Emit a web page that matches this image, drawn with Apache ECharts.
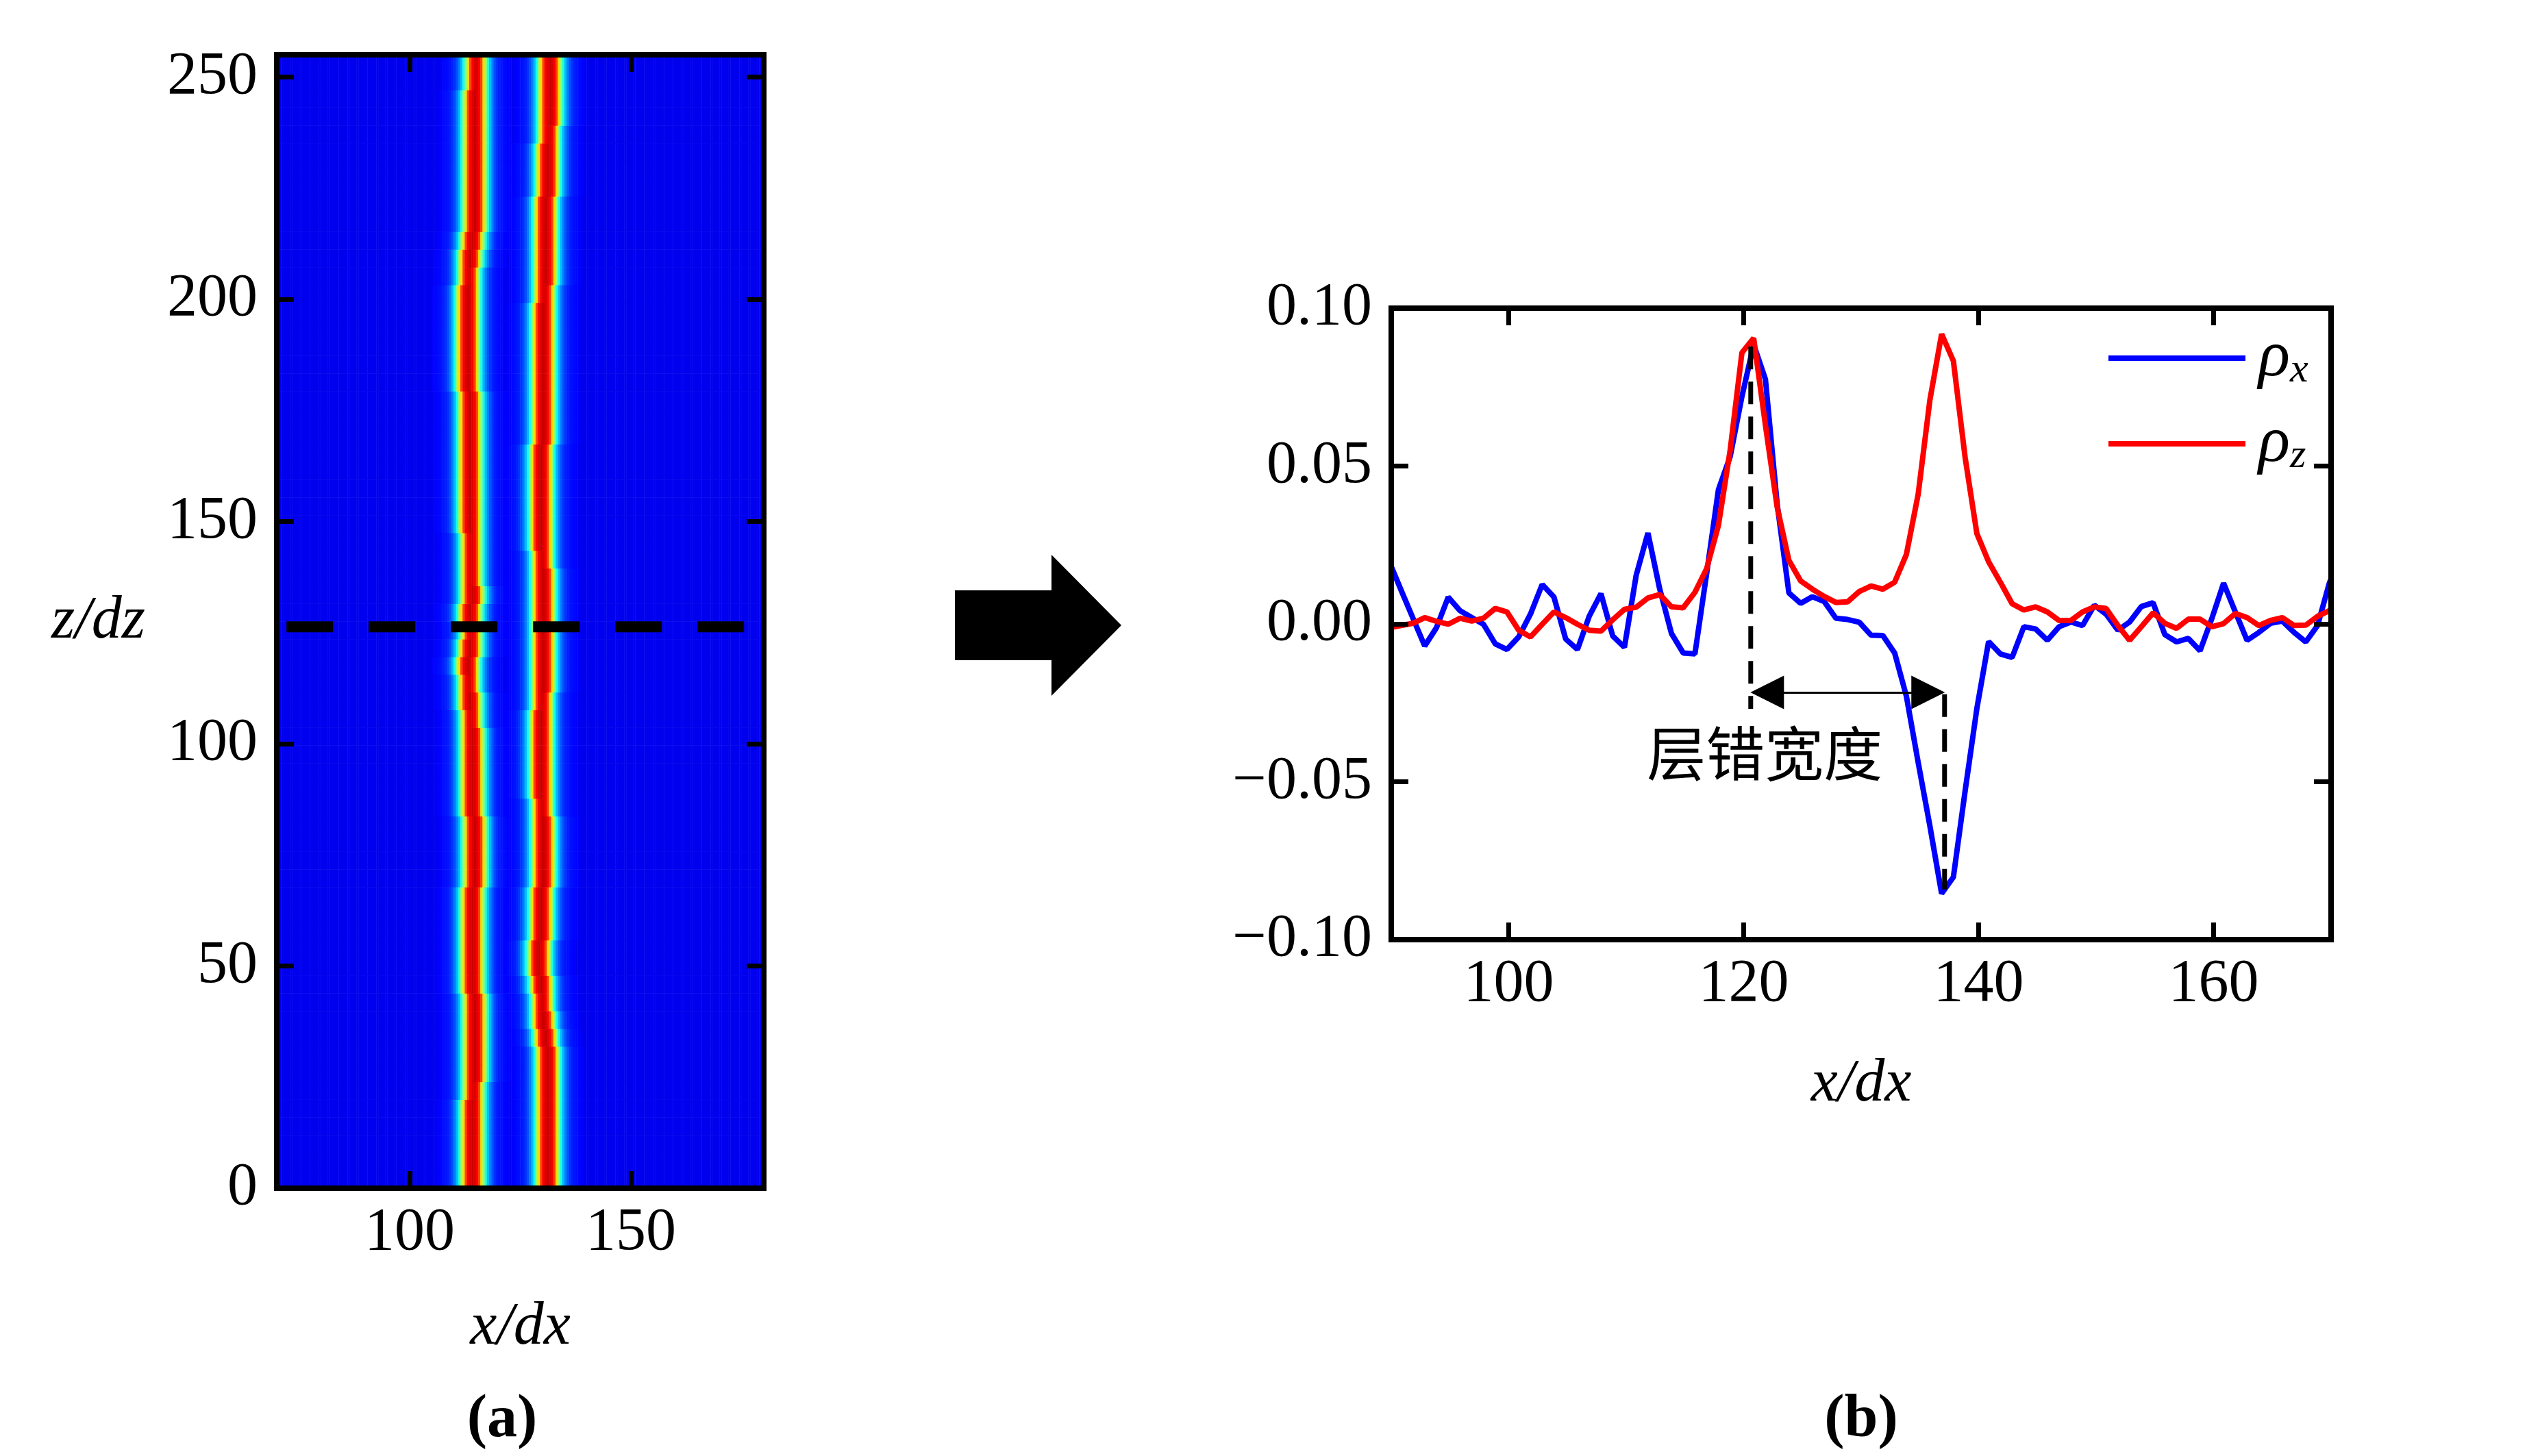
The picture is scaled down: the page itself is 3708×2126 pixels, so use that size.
<!DOCTYPE html>
<html lang="zh">
<head>
<meta charset="UTF-8">
<title>层错宽度</title>
<script src="https://cdn.jsdelivr.net/npm/echarts@6/dist/echarts.min.js"></script>
<style>
    html, body { margin: 0; padding: 0; background: #fff; }
    #main { width: 3708px; height: 2126px; }
</style>
</head>
<body>
<div id="main"></div>
<script type="text/javascript">
    // ---- (a) band centres x/dx, read at z/dz = 0, 4, ... 252
    var bandZ = [0, 4, 8, 12, 16, 20, 24, 28, 32, 36, 40, 44, 48, 52, 56, 60,
        64, 68, 72, 76, 80, 84, 88, 92, 96, 100, 104, 108, 112, 116, 120, 124,
        128, 132, 136, 140, 144, 148, 152, 156, 160, 164, 168, 172, 176, 180, 184, 188,
        192, 196, 200, 204, 208, 212, 216, 220, 224, 228, 232, 236, 240, 244, 248, 252];
    var band1X = [114.05, 114.05, 114.05, 114.1, 114.27, 114.5, 114.6, 114.8, 114.8, 114.8, 114.6, 114.37, 114.27, 114.27, 114.3, 114.37,
        114.48, 114.58, 114.6, 114.6, 114.58, 114.48, 114.37, 114.2, 114.1, 114.05, 114.0, 113.75, 113.5, 113.35, 113.9, 114.0,
        113.96, 114.1, 114.0, 114.0, 114.0, 113.95, 113.8, 113.75, 113.8, 113.9, 113.85, 113.7, 113.6, 113.4, 113.2, 113.1,
        113.1, 113.1, 113.2, 113.5, 113.9, 114.2, 114.7, 114.8, 114.9, 114.9, 114.9, 114.9, 114.9, 114.95, 115.0, 115.0];
    var band2X = [131.2, 131.2, 131.3, 131.4, 131.4, 131.4, 131.36, 131.2, 130.9, 130.46, 130.0, 129.55, 129.45, 129.4, 129.55, 129.75,
        129.9, 130.07, 130.2, 130.2, 130.1, 130.0, 129.86, 129.7, 129.65, 129.75, 129.86, 130.0, 130.2, 130.2, 130.3, 130.4,
        130.35, 130.3, 130.2, 130.0, 129.9, 129.8, 129.7, 129.7, 129.8, 129.9, 130.2, 130.4, 130.4, 130.4, 130.3, 130.3,
        130.3, 130.4, 130.5, 130.6, 130.6, 130.6, 130.7, 130.9, 131.1, 131.25, 131.4, 131.5, 131.6, 131.66, 131.7, 131.72];
    // colour level across a band, read at distance 0, 0.5, 1 ... 8 (x/dx) from its centre
    var bandProfile = [0.93, 0.91, 0.88, 0.81, 0.66, 0.52, 0.40, 0.31, 0.25, 0.205, 0.175, 0.155, 0.145, 0.138, 0.132, 0.127, 0.122];
    var backgroundLevel = 0.108;
    var cutLineZ = 126.3;
    var cutLineX = [72.2, 175.9];

    // ---- (b) profiles along the cut
    var profX = [89.85, 90.85, 91.85, 92.85, 93.85, 94.85, 95.85, 96.85, 97.85, 98.85,
        99.85, 100.85, 101.85, 102.85, 103.85, 104.85, 105.85, 106.85, 107.85, 108.85,
        109.85, 110.85, 111.85, 112.85, 113.85, 114.85, 115.85, 116.85, 117.85, 118.85,
        119.85, 120.85, 121.85, 122.85, 123.85, 124.85, 125.85, 126.85, 127.85, 128.85,
        129.85, 130.85, 131.85, 132.85, 133.85, 134.85, 135.85, 136.85, 137.85, 138.85,
        139.85, 140.85, 141.85, 142.85, 143.85, 144.85, 145.85, 146.85, 147.85, 148.85,
        149.85, 150.85, 151.85, 152.85, 153.85, 154.85, 155.85, 156.85, 157.85, 158.85,
        159.85, 160.85, 161.85, 162.85, 163.85, 164.85, 165.85, 166.85, 167.85, 168.85,
        169.85, 170.85];
    var rhoX = [0.0195, 0.0106, 0.0018, -0.0070, -0.0012, 0.0085, 0.0042, 0.0020, -0.0001, -0.0063,
        -0.0081, -0.0041, 0.0031, 0.0125, 0.0085, -0.0048, -0.0081, 0.0024, 0.0096, -0.0038,
        -0.0074, 0.0154, 0.0288, 0.0111, -0.0030, -0.0092, -0.0095, 0.0160, 0.0425, 0.0530,
        0.0720, 0.0885, 0.0775, 0.0380, 0.0098, 0.0065, 0.0086, 0.0071, 0.0018, 0.0014,
        0.0005, -0.0036, -0.0037, -0.0092, -0.0229, -0.0438, -0.0640, -0.0854, -0.0802, -0.0529,
        -0.0268, -0.0056, -0.0095, -0.0106, -0.0009, -0.0016, -0.0052, -0.0009, 0.0006, -0.0005,
        0.0059, 0.0031, -0.0020, 0.0006, 0.0055, 0.0067, -0.0034, -0.0057, -0.0046, -0.0085,
        0.0017, 0.0129, 0.0038, -0.0052, -0.0027, 0.0002, 0.0009, -0.0027, -0.0057, -0.0005,
        0.0129, 0.0220];
    var rhoZ = [-0.0012, -0.0005, 0.0002, 0.0020, 0.0008, -0.0001, 0.0018, 0.0009, 0.0018, 0.0049,
        0.0038, -0.0020, -0.0041, -0.0001, 0.0038, 0.0020, -0.0001, -0.0020, -0.0023, 0.0013,
        0.0046, 0.0053, 0.0082, 0.0093, 0.0054, 0.0051, 0.0100, 0.0175, 0.0312, 0.0550,
        0.0859, 0.0905, 0.0630, 0.0370, 0.0201, 0.0136, 0.0110, 0.0087, 0.0068, 0.0070,
        0.0103, 0.0120, 0.0110, 0.0132, 0.0220, 0.0410, 0.0709, 0.0918, 0.0833, 0.0527,
        0.0286, 0.0197, 0.0132, 0.0064, 0.0044, 0.0054, 0.0038, 0.0011, 0.0011, 0.0038,
        0.0054, 0.0049, -0.0005, -0.0052, -0.0009, 0.0035, 0.0002, -0.0014, 0.0015, 0.0015,
        -0.0009, 0.0001, 0.0033, 0.0020, -0.0005, 0.0011, 0.0020, -0.0005, -0.0004, 0.0024,
        0.0042, 0.0055];
    // stacking-fault width marks
    var peakLeft = {x: 120.6, top: 0.0878, bottom: -0.0269};
    var peakRight = {x: 137.1, top: -0.0223, bottom: -0.0841};
    var widthArrowY = -0.0217;
    var widthArrowInset = 1.4;
    var widthLabel = {x: 121.8, y: -0.041, text: '层错宽度'};

    // tick labels
    var xTicksA = [100, 150];
    var zTicksA = [0, 50, 100, 150, 200, 250];
    var xTicksB = [100, 120, 140, 160];
    var yTicksB = [-0.10, -0.05, 0, 0.05, 0.10];

    var FONT = "'Liberation Serif', 'Times New Roman', serif";
    var CJK = "'Noto Sans CJK SC', sans-serif";
    var jet = ['#00007f', '#0000ff', '#007fff', '#00ffff', '#7fff7f', '#ffff00', '#ff7f00', '#ff0000', '#7f0000'];

    // heatmap cells, 0.5 x/dx wide, one row per read z
    var cellX = [];
    for (var c = 0; c < 220; c++) {
        cellX.push(70.25 + c * 0.5);
    }
    function level(d) {
        var k = Math.round(d / 0.5);
        return k < bandProfile.length ? bandProfile[k] : backgroundLevel;
    }
    var heatData = [];
    for (var r = 0; r < bandZ.length; r++) {
        for (var c = 0; c < cellX.length; c++) {
            var v = Math.max(level(Math.abs(cellX[c] - band1X[r])),
                level(Math.abs(cellX[c] - band2X[r])), backgroundLevel);
            heatData.push([c, r, v]);
        }
    }

    var gridA = {left: 404, top: 80, width: 711, height: 1655};
    var gridB = {left: 2031, top: 450, width: 1372, height: 922};

    function frame(dim, gridIndex, position, min, max, ticks, showLabel) {
        var ax = {
            type: 'value',
            gridIndex: gridIndex,
            position: position,
            min: min,
            max: max,
            z: 5,
            axisLine: {show: true, onZero: false, lineStyle: {color: '#000', width: 8, cap: 'square'}},
            axisTick: {show: true, inside: true, length: 25, customValues: ticks,
                lineStyle: {color: '#000', width: 7}},
            axisLabel: {show: showLabel, customValues: ticks, fontFamily: FONT, fontSize: 88,
                color: '#000', margin: dim === 'x' ? 22 : 28},
            splitLine: {show: false}
        };
        return ax;
    }

    var xA = frame('x', 1, 'bottom', 70, 180, xTicksA, true);
    xA.name = 'x/dx';
    xA.nameLocation = 'middle';
    xA.nameGap = 160;
    xA.nameTextStyle = {fontFamily: FONT, fontStyle: 'italic', fontSize: 88, color: '#000'};
    var zA = frame('y', 1, 'left', 0, 255, zTicksA, true);
    zA.name = 'z/dz';
    zA.nameLocation = 'middle';
    zA.nameRotate = 0;
    zA.nameGap = 192;
    zA.nameTextStyle = {fontFamily: FONT, fontStyle: 'italic', fontSize: 88, color: '#000', padding: [34, 0, 0, 0]};
    var xB = frame('x', 2, 'bottom', 90, 170, xTicksB, true);
    xB.name = 'x/dx';
    xB.nameLocation = 'middle';
    xB.nameGap = 168;
    xB.nameTextStyle = {fontFamily: FONT, fontStyle: 'italic', fontSize: 88, color: '#000'};
    var yB = frame('y', 2, 'left', -0.1, 0.1, yTicksB, true);
    yB.axisLabel.formatter = function (v) {
        return (v < -1e-9 ? '\u2212' : '') + Math.abs(v).toFixed(2);
    };

    function pairs(xs, ys) {
        var out = [];
        for (var i = 0; i < xs.length; i++) out.push([xs[i], ys[i]]);
        return out;
    }

    // one legend box per curve so each row sits where the reference has it
    function legendBox(name, top) {
        return {
            data: [name],
            left: 3073,
            top: top,
            icon: 'rect',
            itemWidth: 200,
            itemHeight: 8,
            selectedMode: false,
            formatter: function (n) {
                return '{r|ρ}{s|' + n.charAt(1) + '}';
            },
            textStyle: {
                rich: {
                    r: {fontFamily: FONT, fontStyle: 'italic', fontSize: 96, color: '#000',
                        padding: [0, 0, 0, 14]},
                    s: {fontFamily: FONT, fontStyle: 'italic', fontSize: 60, color: '#000',
                        padding: [36, 0, 0, 0]}
                }
            }
        };
    }

    var chart = echarts.init(document.getElementById('main'), null, {renderer: 'canvas'});
    chart.setOption({
        animation: false,
        backgroundColor: '#fff',
        grid: [
            {left: gridA.left, top: gridA.top, width: gridA.width, height: gridA.height},
            {left: gridA.left, top: gridA.top, width: gridA.width, height: gridA.height},
            {left: gridB.left, top: gridB.top, width: gridB.width, height: gridB.height}
        ],
        xAxis: [
            {type: 'category', gridIndex: 0, data: cellX, show: false},
            xA,
            frame('x', 1, 'top', 70, 180, xTicksA, false),
            xB,
            frame('x', 2, 'top', 90, 170, xTicksB, false)
        ],
        yAxis: [
            {type: 'category', gridIndex: 0, data: bandZ, show: false},
            zA,
            frame('y', 1, 'right', 0, 255, zTicksA, false),
            yB,
            frame('y', 2, 'right', -0.1, 0.1, yTicksB, false)
        ],
        visualMap: {
            type: 'continuous', show: false, min: 0, max: 1, dimension: 2, seriesIndex: 0,
            inRange: {color: jet}
        },
        legend: [legendBox('ρx', 470), legendBox('ρz', 595)],
        graphic: [
            {type: 'polygon', shape: {points: [[1394, 862], [1535, 862], [1535, 810], [1637, 913],
                [1535, 1016], [1535, 964], [1394, 964]]}, style: {fill: '#000'}},
            {type: 'text', x: 733, y: 2074, style: {text: '(a)', font: 'bold 88px ' + FONT,
                fill: '#000', align: 'center', verticalAlign: 'middle'}},
            {type: 'text', x: 2717, y: 2074, style: {text: '(b)', font: 'bold 88px ' + FONT,
                fill: '#000', align: 'center', verticalAlign: 'middle'}}
        ],
        series: [
            {
                type: 'heatmap',
                xAxisIndex: 0,
                yAxisIndex: 0,
                data: heatData,
                progressive: 0,
                z: 1,
                emphasis: {disabled: true}
            },
            {
                type: 'line',
                xAxisIndex: 1,
                yAxisIndex: 1,
                data: [[cutLineX[0], cutLineZ], [cutLineX[1], cutLineZ]],
                symbol: 'none',
                z: 4,
                lineStyle: {color: '#000', width: 16, type: [68, 52]}
            },
            {
                name: 'ρx',
                type: 'line',
                xAxisIndex: 3,
                yAxisIndex: 3,
                data: pairs(profX, rhoX),
                symbol: 'none',
                color: '#0000ff',
                lineStyle: {color: '#0000ff', width: 8}
            },
            {
                name: 'ρz',
                type: 'line',
                xAxisIndex: 3,
                yAxisIndex: 3,
                data: pairs(profX, rhoZ),
                symbol: 'none',
                color: '#ff0000',
                lineStyle: {color: '#ff0000', width: 8}
            },
            {
                type: 'line',
                xAxisIndex: 3,
                yAxisIndex: 3,
                data: [[peakLeft.x, peakLeft.top], [peakLeft.x, peakLeft.bottom]],
                symbol: 'none',
                z: 4,
                lineStyle: {color: '#000', width: 7, type: [33, 18]}
            },
            {
                type: 'line',
                xAxisIndex: 3,
                yAxisIndex: 3,
                data: [[peakRight.x, peakRight.top], [peakRight.x, peakRight.bottom]],
                symbol: 'none',
                z: 4,
                lineStyle: {color: '#000', width: 7, type: [33, 18]}
            },
            {
                type: 'line',
                xAxisIndex: 3,
                yAxisIndex: 3,
                data: [],
                z: 4,
                markLine: {
                    silent: true,
                    symbol: ['triangle', 'triangle'],
                    symbolSize: 49,
                    label: {show: false},
                    lineStyle: {color: '#000', width: 3, type: 'solid'},
                    data: [[
                        {coord: [peakLeft.x + widthArrowInset, widthArrowY]},
                        {coord: [peakRight.x - widthArrowInset, widthArrowY]}
                    ]]
                },
                markPoint: {
                    silent: true,
                    symbol: 'circle',
                    symbolSize: 0,
                    label: {show: true, position: 'inside', formatter: widthLabel.text,
                        fontFamily: CJK, fontSize: 86, color: '#000'},
                    data: [{coord: [widthLabel.x, widthLabel.y]}]
                }
            }
        ]
    });
</script>
</body>
</html>
